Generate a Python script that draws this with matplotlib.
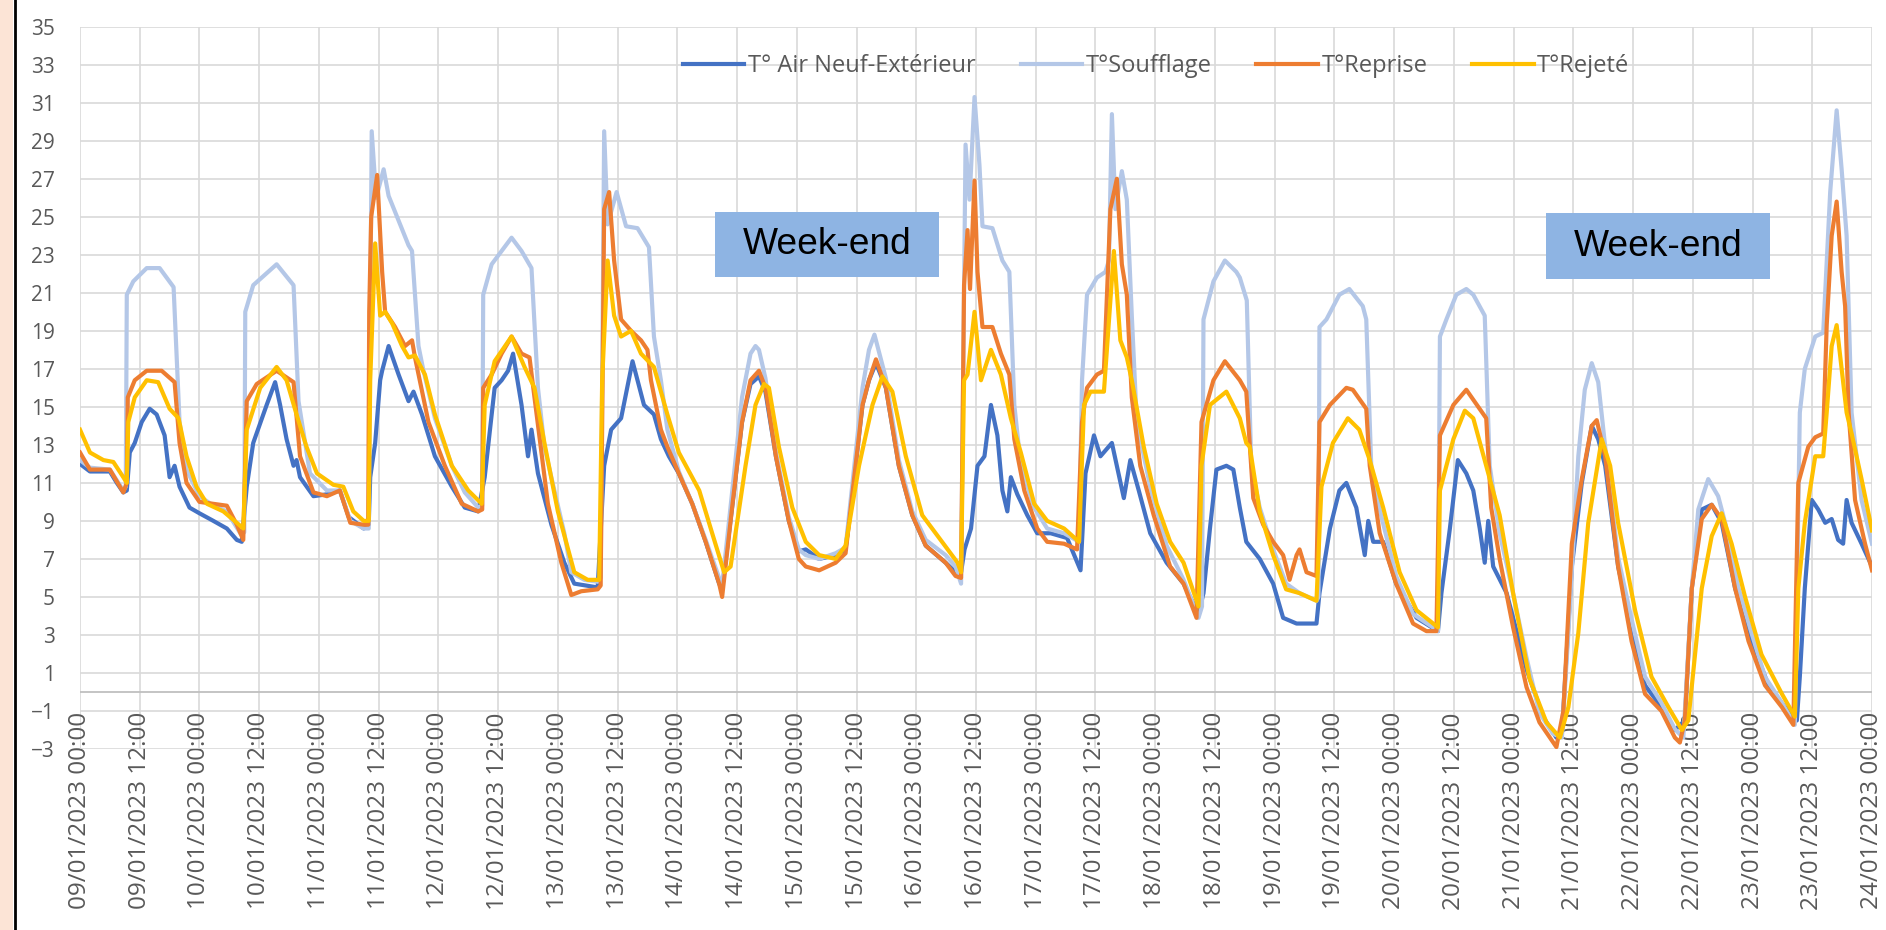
import numpy as np
import matplotlib
matplotlib.use("Agg")
import matplotlib.pyplot as plt
import matplotlib.dates as mdates
import pandas as pd
from matplotlib.patches import Rectangle
from matplotlib.lines import Line2D

plt.rcParams['font.family'] = ['Open Sans', 'DejaVu Sans']

start = pd.Timestamp('2023-01-09 00:00')

# hours since 09/01 00:00 and temperatures
air_h = [0, 2, 6, 7.4, 8.7, 9.4, 10, 11, 12.4, 14, 15.4, 17, 18, 19, 20, 22, 24, 26.8, 29.5, 31.5, 32.5,
         33.5, 34.8, 37.5, 39.2, 40.2, 41.5, 42.9, 43.5, 44.2, 46.9, 49.6, 52.2, 54, 57, 58, 58.3, 59.3,
         60.3, 60.7, 62, 64, 66, 67, 68.7, 71.3, 74.7, 77.3, 80, 81.3, 83.3, 84.7, 86, 87, 88.7, 90, 90.7,
         92, 94.7, 97.3, 99.3, 104, 105.3, 106.7, 108.7, 111, 113.3, 115.3, 116.7, 118.3, 120.3, 123,
         125.7, 128.4, 129, 131, 133, 134.7, 136.4, 137.7, 139.8, 142.4, 144.4, 145.8, 148.5, 151.8,
         153.8, 155.8, 157.2, 158.5, 159.9, 161.9, 164.5, 167.2, 169.9, 173.9, 175.9, 177, 177.7, 179,
         180.3, 181.7, 183, 184.3, 185.3, 186.3, 187, 188.3, 190.3, 192.3, 195, 198.3, 201, 202, 203.7,
         205, 207.3, 208.3, 209.7, 211, 212.7, 215, 218.3, 221.7, 224.7, 225.7, 227, 228.3, 230.3, 231.7,
         233, 234.3, 237, 239.7, 241.7, 244.4, 248.4, 249, 251.1, 253, 254.4, 256.4, 258.1, 258.8, 259.8,
         261.8, 264.4, 268.5, 272.8, 273.5, 275.2, 276.8, 278.5, 279.9, 281.2, 282.2, 282.9, 283.9, 286.6,
         290.6, 293.9, 296.6, 297.7, 299.7, 301.7, 303.7, 305, 306.4, 309, 311.7, 314.4, 317.7, 320.4,
         322.4, 323.8, 325.8, 327.8, 329.8, 332.5, 335.8, 339.2, 342.5, 344.9, 345.5, 346.5, 347.9, 349.2,
         350.6, 351.9, 353.2, 354.2, 354.9, 355.9, 357.9, 360]
air_v = [12.0, 11.6, 11.6, 11.0, 10.5, 10.6, 12.6, 13.1, 14.2, 14.9, 14.6, 13.5, 11.3, 11.9, 10.8, 9.7, 9.4,
         9.0, 8.6, 8.0, 7.9, 10.8, 13.1, 15.1, 16.3, 15.1, 13.3, 11.9, 12.2, 11.3, 10.3, 10.4, 10.6, 9.2,
         8.6, 8.8, 11.3, 13.1, 16.4, 16.9, 18.2, 16.7, 15.3, 15.8, 14.6, 12.4, 10.8, 9.7, 9.5, 11.3, 16.0,
         16.4, 16.9, 17.8, 15.1, 12.4, 13.8, 11.5, 8.8, 6.8, 5.7, 5.5, 11.9, 13.8, 14.4, 17.4, 15.1, 14.6,
         13.3, 12.4, 11.5, 9.9, 7.9, 5.7, 5.4, 9.7, 14.2, 16.2, 16.6, 15.8, 12.4, 9.0, 7.4, 7.5, 7.0, 7.2,
         7.5, 11.9, 15.1, 16.4, 17.3, 16.0, 11.9, 9.3, 7.7, 6.8, 6.3, 6.3, 7.5, 8.6, 11.9, 12.4, 15.1, 13.5,
         10.6, 9.5, 11.3, 10.4, 9.3, 8.35, 8.35, 8.1, 6.4, 11.5, 13.5, 12.4, 13.1, 11.9, 10.2, 12.2, 10.6,
         8.35, 6.8, 5.7, 4.1, 5.2, 8.6, 11.7, 11.9, 11.7, 9.7, 7.9, 7.0, 5.7, 3.9, 3.6, 3.6, 5.2, 8.6, 10.6,
         11.0, 9.7, 7.2, 9.0, 7.9, 7.9, 5.7, 3.9, 3.2, 5.2, 8.6, 12.2, 11.5, 10.6, 8.6, 6.8, 9.0, 6.6, 5.2,
         1.2, -1.3, -2.4, -2.2, 6.6, 11.0, 14.0, 13.3, 11.9, 6.6, 3.4, 0.35, -0.8, -2.0, -1.5, 5.45, 9.6,
         9.85, 8.9, 5.45, 2.67, 0.35, -0.8, -1.5, 0.8, 5.45, 10.1, 9.6, 8.9, 9.1, 8.0, 7.8, 10.1, 8.9, 7.8,
         6.6]

souff_h = [0, 2, 6, 8.7, 9.2, 9.4, 10.7, 13.4, 16, 18.8, 20, 21.4, 24, 26.8, 29.5, 32.2, 33.0, 33.2, 34.8,
           39.5, 42.9, 43.9, 46.2, 49.6, 52.2, 54.3, 57, 58.0, 58.6, 59.5, 61, 62, 64, 66, 66.7, 68, 69,
           71.3, 74.7, 77.3, 80, 80.8, 81, 82.7, 84.7, 86.7, 88.7, 90.7, 92, 93.3, 95.3, 97.3, 98.7, 101.3,
           104, 104.6, 105.3, 106.0, 107.8, 109.7, 112, 114.3, 115.3, 116.7, 118, 120.3, 123, 125.7, 128.4,
           129, 131, 133, 134.7, 135.7, 136.4, 137.7, 139.8, 142.4, 144.4, 145.8, 148.5, 151.8, 153.8,
           155.8, 157.2, 158.5, 159.6, 161.9, 164.5, 167.2, 169.9, 173.9, 175.9, 177, 177.5, 177.9, 178.7,
           179.7, 180.7, 181.3, 183.3, 185.3, 186.7, 187.7, 189, 191.7, 194.3, 197.7, 200.7, 201.3, 202.3,
           204.3, 206, 206.7, 207.3, 208, 209.3, 210.3, 211.3, 212.3, 215, 218.3, 221.7, 224.7, 225.4,
           225.7, 227.7, 230, 232.3, 233, 234.4, 235.3, 237, 239.7, 242.3, 245, 248.4, 248.8, 249, 250.4,
           253, 255, 257.7, 258.4, 259.4, 261, 264.4, 267.8, 271.8, 272.8, 273.2, 274.5, 276.5, 278.5,
           279.9, 282.2, 283.2, 285.2, 287.9, 290.6, 293.2, 295.9, 297.7, 299, 301, 302.3, 303.7, 305,
           306.4, 309, 311.7, 314.4, 317.7, 320.4, 322.1, 323.8, 325.1, 327.1, 329.1, 330.5, 333.2, 335.8,
           338.5, 341.9, 344.5, 345.5, 346.5, 348.6, 350.2, 351.6, 352.9, 353.9, 354.9, 355.9, 357.9, 360]
souff_v = [12.2, 11.8, 11.7, 10.6, 10.8, 20.9, 21.6, 22.3, 22.3, 21.3, 14.2, 11.7, 10.3, 9.8, 9.5, 8.35,
           8.4, 20.0, 21.4, 22.5, 21.4, 15.3, 11.5, 10.6, 10.6, 9.0, 8.6, 8.6, 29.5, 26.0, 27.5, 26.1, 24.8,
           23.5, 23.2, 18.2, 16.9, 14.4, 11.9, 10.5, 9.7, 9.8, 20.9, 22.5, 23.2, 23.9, 23.2, 22.3, 16.0,
           12.9, 10.6, 8.35, 6.3, 5.9, 5.8, 6.0, 29.5, 24.6, 26.3, 24.5, 24.4, 23.4, 18.7, 16.4, 13.8, 11.6,
           9.9, 8.0, 6.0, 5.6, 10.5, 15.5, 17.8, 18.2, 18.0, 16.5, 12.6, 9.2, 7.5, 7.2, 7.0, 7.3, 7.6, 12.5,
           16.0, 18.0, 18.8, 16.5, 12.2, 9.5, 8.0, 7.2, 6.6, 5.7, 18.7, 28.8, 25.9, 31.3, 27.7, 24.5, 24.4,
           22.7, 22.1, 15.1, 11.9, 9.7, 8.6, 8.35, 7.9, 16.4, 20.9, 21.8, 22.1, 22.7, 30.4, 25.4, 27.4, 25.9,
           19.8, 14.2, 10.8, 7.7, 5.9, 3.9, 4.5, 19.6, 21.6, 22.7, 22.1, 21.8, 20.6, 11.9, 9.7, 7.5, 5.7,
           5.2, 4.8, 5.0, 19.2, 19.6, 20.9, 21.2, 20.3, 19.6, 11.9, 9.7, 6.1, 4.1, 3.4, 3.2, 18.7, 19.6,
           20.9, 21.2, 20.9, 19.8, 11.9, 8.35, 5.2, 1.8, -1.1, -2.2, -2.4, 3.1, 12.4, 15.9, 17.3, 16.3, 12.9,
           7.07, 3.83, 0.8, -0.57, -1.96, -2.4, 5.45, 9.6, 11.2, 10.3, 8.9, 5.45, 3.1, 0.8, -0.57, -1.73,
           14.7, 17.0, 18.7, 18.9, 26.3, 30.6, 27.5, 24.0, 14.7, 10.1, 7.8]

repr_h = [0, 2, 6, 8.7, 9.4, 9.6, 11, 13.4, 16.4, 19, 20, 21.4, 24, 26.8, 29.5, 31.5, 32.8, 33.5, 35.5,
          39.5, 42.9, 44.2, 46.9, 49.6, 52.2, 54.3, 57, 57.9, 58.1, 58.5, 59.7, 60.7, 61.3, 63.3, 65.3,
          66.7, 67.3, 70, 73.3, 76.7, 80, 80.8, 81, 82.7, 84.7, 86.7, 88.7, 90.3, 91.3, 94, 96.7, 98.7,
          100.7, 104, 104.6, 105.3, 106.3, 107.3, 108.7, 110.7, 112.7, 114, 114.7, 116.7, 118, 120.3, 123,
          125.7, 128.4, 129, 131, 133, 134.7, 136.4, 137.7, 139.8, 142.4, 144.4, 145.8, 148.5, 151.8,
          153.8, 155.8, 157.2, 158.5, 159.9, 161.9, 164.5, 167.2, 169.9, 173.9, 175.9, 177, 177.6, 178.3,
          178.8, 179.7, 180.3, 181.3, 183.3, 185, 186.7, 187.7, 189.7, 192.3, 194.3, 197.7, 200.3, 201.3,
          202.3, 204.3, 205.7, 207, 208.3, 209.3, 210.3, 211.3, 213, 215.7, 219, 221.7, 224.3, 225.3,
          227.7, 230, 233, 234.3, 235.7, 237.7, 239.7, 241.7, 243, 244.4, 245, 246.4, 248.4, 249, 251.1,
          254.4, 255.7, 258.4, 259.1, 261.1, 264.4, 267.8, 270.5, 272.5, 273.2, 275.9, 278.5, 282.5,
          283.5, 285.2, 287.9, 290.6, 293.2, 296.6, 298, 299.7, 301.7, 303.7, 304.7, 306.4, 309, 311.7,
          314.4, 317.7, 320.4, 321.4, 322.4, 323.8, 325.8, 327.8, 329.8, 332.5, 335.2, 338.5, 341.9,
          344.2, 345.2, 347.2, 348.6, 350.2, 350.9, 351.9, 352.9, 353.9, 354.6, 355.3, 356.6, 358.6, 360]
repr_v = [12.6, 11.7, 11.7, 10.5, 11.0, 15.5, 16.4, 16.9, 16.9, 16.3, 13.1, 11.0, 10.0, 9.9, 9.8, 8.8,
          8.0, 15.3, 16.2, 16.9, 16.3, 12.4, 10.5, 10.3, 10.6, 8.9, 8.8, 8.8, 20.0, 25.0, 27.2, 22.1,
          20.0, 19.2, 18.2, 18.5, 17.6, 14.2, 11.9, 9.9, 9.5, 9.6, 16.0, 16.7, 17.8, 18.7, 17.8, 17.6,
          15.5, 9.9, 6.8, 5.1, 5.3, 5.4, 5.6, 25.4, 26.3, 22.7, 19.6, 19.0, 18.5, 18.0, 16.4, 13.8, 12.9,
          11.5, 9.9, 7.9, 5.7, 5.0, 9.7, 14.2, 16.4, 16.9, 16.0, 12.4, 9.0, 7.0, 6.6, 6.4, 6.8, 7.3,
          11.9, 15.1, 16.4, 17.5, 16.0, 11.9, 9.3, 7.7, 6.8, 6.1, 6.0, 21.4, 24.3, 21.2, 26.9, 22.1,
          19.2, 19.2, 17.8, 16.7, 13.3, 10.6, 8.6, 7.9, 7.8, 7.5, 14.2, 16.0, 16.7, 16.9, 25.4, 27.0,
          22.5, 20.9, 15.5, 11.9, 9.3, 6.6, 5.7, 3.9, 14.2, 16.4, 17.4, 16.4, 15.8, 10.2, 8.8, 7.9, 7.2,
          5.9, 7.2, 7.5, 6.3, 6.1, 14.2, 15.1, 16.0, 15.9, 14.9, 11.9, 8.35, 5.7, 3.6, 3.2, 3.2, 13.5,
          15.1, 15.9, 14.4, 9.7, 7.0, 3.4, 0.25, -1.6, -2.9, -1.0, 7.8, 11.2, 14.0, 14.3, 12.4, 6.6, 2.67,
          -0.1, -1.0, -2.4, -2.66, -1.5, 5.45, 9.1, 9.85, 9.1, 5.45, 2.67, 0.35, -0.8, -1.73, 11.0, 12.9,
          13.4, 13.6, 19.3, 24.0, 25.8, 22.1, 20.3, 14.7, 10.1, 7.8, 6.4]

rej_h = [0, 2, 4.7, 6.7, 8.7, 9.4, 9.7, 11, 13.4, 15.7, 18, 19.8, 21.4, 23.4, 25.5, 28.8, 31.5, 32.8, 33.5,
         36.2, 39.5, 41.5, 43.5, 45.5, 47.6, 50.9, 52.9, 54.9, 57, 58, 58.3, 59.3, 60.3, 61.3, 62.7, 64.7,
         66, 67.3, 69.3, 71.3, 74.7, 78, 80.7, 81.3, 83.3, 86.7, 89.3, 91.3, 93.3, 96, 99.3, 102, 104.3,
         104.9, 106, 107.3, 108.7, 110.7, 112.7, 115.3, 118, 120.3, 124.4, 127, 129.4, 130.7, 133.7,
         135.7, 137.4, 138.4, 140.4, 143.1, 145.8, 148.5, 151.8, 153.8, 156.5, 159.2, 161.2, 163.2, 165.9,
         169.2, 172.6, 176.3, 177, 177.6, 178.3, 179.7, 181, 183, 185, 187, 189, 191.7, 194.3, 197.7,
         200.7, 201.7, 203, 205.7, 207.7, 209, 210.3, 211.3, 213.7, 216.3, 219, 221.7, 224.7, 225.3, 227,
         230.3, 233, 234.3, 235, 237, 239.7, 242.3, 245, 248.4, 249.4, 251.7, 254.7, 257, 259.1, 261.8,
         265.1, 268.5, 272.8, 273.2, 275.9, 278.2, 279.9, 282.5, 285.2, 287.9, 291.2, 294.6, 297.3, 299,
         301, 303, 305.7, 307.4, 309, 312.4, 315.7, 319.1, 321.8, 323.1, 325.8, 327.8, 329.8, 331.8,
         334.5, 337.8, 341.9, 344.5, 345.2, 346.5, 348.6, 350.2, 350.9, 351.9, 352.9, 353.9, 354.9,
         355.9, 357.9, 360]
rej_v = [13.8, 12.6, 12.2, 12.1, 11.3, 11.0, 14.2, 15.5, 16.4, 16.3, 14.9, 14.4, 12.4, 10.8, 9.9, 9.5,
         8.9, 8.6, 13.8, 16.0, 17.1, 16.4, 14.6, 12.9, 11.5, 10.9, 10.8, 9.5, 9.0, 9.0, 16.4, 23.6, 19.8,
         20.0, 19.4, 18.2, 17.6, 17.7, 16.7, 14.6, 11.9, 10.6, 9.9, 15.1, 17.4, 18.7, 17.1, 16.0, 13.1,
         9.5, 6.3, 5.9, 5.9, 16.4, 22.7, 19.8, 18.7, 19.0, 17.8, 17.1, 14.6, 12.6, 10.6, 8.35, 6.3, 6.6,
         11.9, 15.1, 16.2, 16.0, 12.9, 9.7, 7.9, 7.2, 7.0, 7.7, 11.9, 15.1, 16.6, 15.8, 12.4, 9.3, 8.1,
         6.8, 6.3, 16.4, 16.7, 20.0, 16.4, 18.0, 16.7, 14.4, 12.6, 9.9, 9.0, 8.6, 7.9, 15.1, 15.8, 15.8,
         23.2, 18.5, 17.6, 16.4, 12.9, 9.9, 7.9, 6.8, 4.5, 11.9, 15.1, 15.8, 14.4, 13.1, 12.9, 9.5, 7.2,
         5.4, 5.2, 4.8, 10.8, 13.1, 14.4, 13.8, 12.2, 9.7, 6.3, 4.3, 3.4, 10.6, 13.3, 14.8, 14.4, 11.9,
         9.3, 5.2, 0.7, -1.6, -2.4, -0.8, 3.1, 8.9, 13.3, 11.9, 8.9, 4.3, 0.8, -0.8, -2.0, -1.5, 5.45,
         8.2, 9.4, 7.8, 5.0, 1.97, -0.1, -1.3, 5.45, 8.9, 12.4, 12.4, 14.7, 18.2, 19.3, 17.0, 14.7, 13.6,
         11.2, 8.5]

series = [
    ("T° Air Neuf-Extérieur", air_h, air_v, "#4472C4"),
    ("T°Soufflage", souff_h, souff_v, "#B4C7E7"),
    ("T°Reprise", repr_h, repr_v, "#ED7D31"),
    ("T°Rejeté", rej_h, rej_v, "#FFC000"),
]

W, H = 1886, 930
fig = plt.figure(figsize=(W / 100, H / 100), dpi=100)


def fx(px):
    return px / W


def fy(py):
    return 1 - py / H


# axes box in pixels: left 80, right 1872, top 26.7 (35), bottom 749 (-3)
ax = fig.add_axes([fx(80), fy(749), fx(1872) - fx(80), fy(26.7) - fy(749)])

for name, hh, vv, col in series:
    t = start + pd.to_timedelta(np.array(hh), unit='h')
    ax.plot(t, vv, color=col, lw=3.0, label=name, solid_joinstyle='round')

ax.set_xlim(start, start + pd.Timedelta(hours=360))
ax.set_ylim(-3, 35)
ax.set_yticks(np.arange(-3, 36, 2))
ax.xaxis.set_major_locator(mdates.HourLocator(byhour=[0, 12]))
ax.xaxis.set_major_formatter(mdates.DateFormatter('%d/%m/%Y %H:%M'))

ax.grid(True, color='#D9D9D9', lw=1.2)
ax.set_axisbelow(True)
ax.axhline(0, color='#BFBFBF', lw=1.3, zorder=1)
for s in ax.spines.values():
    s.set_visible(False)

ax.tick_params(axis='y', length=0, pad=18, labelsize=15, labelcolor='#595959')
ax.tick_params(axis='x', length=0, pad=-26.5, labelsize=17.5, labelcolor='#595959')
for lab in ax.get_xticklabels():
    lab.set_rotation(90)

leg = ax.legend(loc='center left', bbox_to_anchor=(fx(683), fy(66)), bbox_transform=fig.transFigure,
                ncol=4, frameon=False, fontsize=17, handlelength=2.6, handletextpad=0.15,
                columnspacing=1.9, borderpad=0, borderaxespad=0, labelcolor='#595959')
for ln in leg.get_lines():
    ln.set_linewidth(3.0)

# week-end boxes
for x0, y0, x1, y1 in [(715, 212, 939, 277), (1546, 213, 1770, 279)]:
    fig.patches.append(Rectangle((fx(x0), fy(y1)), fx(x1) - fx(x0), fy(y0) - fy(y1),
                                 transform=fig.transFigure, facecolor='#8EB4E3', edgecolor='none',
                                 zorder=5))
    fig.text(fx((x0 + x1) / 2), fy((y0 + y1) / 2), "Week-end", ha='center', va='center',
             fontsize=26.7, family='Liberation Sans', color='black', zorder=6)

# peach border on the left
fig.patches.append(Rectangle((0, 0), fx(13), 1, transform=fig.transFigure,
                             facecolor='#FCE4D6', edgecolor='none'))
fig.lines.append(Line2D([fx(14.7), fx(14.7)], [0, 1], transform=fig.transFigure, color='black', lw=2))

fig.savefig('out.png', dpi=100)
